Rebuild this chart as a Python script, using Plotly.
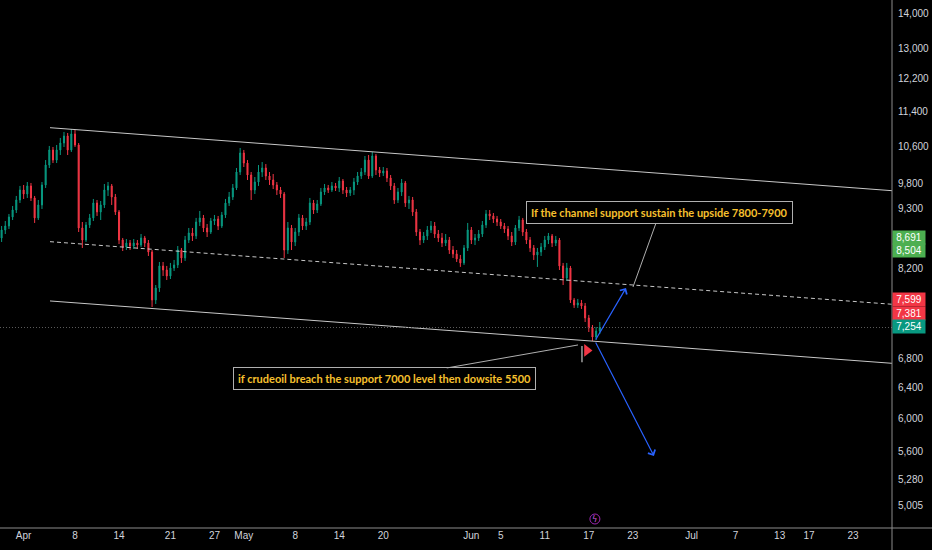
import math
import pandas as pd
import plotly.graph_objects as go

# CRUDEOIL, 12h candles (log price scale)
first_candle = "2024-03-29 00:00"

opens = [8747, 8894, 8969, 9140, 9274, 9470, 9670, 9590, 9752, 9510,
         9121, 9372, 9772, 10188, 10514, 10295, 10514, 10668, 10826, 10514,
         10872, 10624, 8932, 8710, 8988, 9121, 9411, 9236, 9372, 9670,
         9752, 9530, 9236, 8710, 8583, 8655, 8601, 8655, 8619, 8747,
         8655, 8495, 7684, 7879, 8250, 8181, 8079, 8215, 8267, 8530,
         8389, 8710, 8839, 8784, 9044, 9121, 8932, 8857, 9063, 9101,
         8969, 9178, 9411, 9530, 9711, 10041, 10448, 10231, 9978, 9670,
         9833, 10041, 10125, 9957, 9874, 9772, 9670, 9590, 8530, 8932,
         8674, 8857, 9121, 8969, 9044, 9411, 9274, 9392, 9630, 9711,
         9670, 9752, 9711, 9854, 9670, 9610, 9670, 9833, 9957, 10041,
         10295, 9957, 10382, 10083, 10020, 10062, 9916, 9752, 9470, 9630,
         9813, 9411, 9470, 9236, 8857, 8710, 8784, 8894, 8969, 8820,
         8747, 8655, 8710, 8530, 8460, 8372, 8302, 8566, 8894, 8710,
         8747, 8820, 8988, 9197, 9159, 9101, 9044, 8969, 8913, 8784,
         8674, 8932, 9082, 8857, 8710, 8566, 8442, 8495, 8583, 8710,
         8784, 8655, 8710, 8250, 8045, 8215, 7684, 7604, 7636, 7588,
         7400, 7246, 7111, 7201]

highs = [8969, 9063, 9197, 9352, 9550, 9752, 9772, 9833, 9813, 9550,
         9470, 9833, 10295, 10602, 10580, 10624, 10781, 10917, 10894, 10985,
         10962, 10668, 9044, 9044, 9197, 9490, 9470, 9450, 9792, 9833,
         9792, 9590, 9274, 8747, 8728, 8710, 8728, 8710, 8820, 8784,
         8710, 8530, 7928, 8319, 8319, 8250, 8302, 8354, 8601, 8566,
         8784, 8932, 8932, 9121, 9255, 9178, 9007, 9121, 9178, 9159,
         9236, 9490, 9630, 9792, 10125, 10558, 10514, 10295, 10041, 9936,
         10188, 10252, 10209, 10041, 9999, 9833, 9731, 9630, 9044, 8988,
         8932, 9197, 9178, 9121, 9510, 9470, 9470, 9711, 9792, 9772,
         9833, 9813, 9936, 9895, 9731, 9731, 9916, 10041, 10125, 10382,
         10404, 10470, 10426, 10146, 10146, 10125, 9978, 9813, 9711, 9895,
         9854, 9550, 9530, 9294, 8913, 8857, 8969, 9063, 9044, 8894,
         8839, 8820, 8765, 8601, 8530, 8442, 8619, 9026, 8950, 8820,
         8894, 9063, 9274, 9274, 9216, 9159, 9101, 9026, 8969, 8857,
         8988, 9159, 9121, 8913, 8765, 8619, 8566, 8655, 8784, 8839,
         8820, 8784, 8747, 8302, 8302, 8250, 7716, 7700, 7684, 7636,
         7447, 7292, 7262, 7338]

lows = [8674, 8820, 8913, 9082, 9216, 9411, 9490, 9510, 9450, 9026,
        9082, 9294, 9711, 10125, 10231, 10231, 10404, 10580, 10404, 10470,
        10580, 8857, 8566, 8674, 8932, 9063, 9159, 9082, 9313, 9550,
        9372, 9178, 8637, 8512, 8530, 8530, 8548, 8548, 8583, 8583,
        8424, 7572, 7620, 7814, 8079, 8011, 8028, 8164, 8215, 8302,
        8337, 8655, 8692, 8728, 8969, 8857, 8765, 8820, 8988, 8894,
        8932, 9121, 9352, 9470, 9670, 9978, 10146, 9874, 9470, 9590,
        9752, 9936, 9874, 9772, 9690, 9570, 9510, 8389, 8460, 8530,
        8601, 8784, 8894, 8894, 8988, 9197, 9216, 9352, 9570, 9610,
        9630, 9650, 9630, 9590, 9530, 9550, 9570, 9772, 9895, 9978,
        9895, 9916, 9978, 9936, 9957, 9833, 9670, 9392, 9411, 9550,
        9333, 9294, 9159, 8784, 8619, 8655, 8710, 8839, 8747, 8674,
        8583, 8601, 8460, 8389, 8319, 8233, 8267, 8512, 8637, 8619,
        8692, 8765, 8932, 9082, 9026, 8969, 8913, 8839, 8710, 8601,
        8619, 8876, 8784, 8637, 8495, 8354, 8233, 8424, 8530, 8637,
        8583, 8601, 8181, 7928, 7994, 7636, 7557, 7557, 7541, 7338,
        7186, 7052, 7067, 7156]

closes = [8894, 8969, 9140, 9274, 9470, 9670, 9590, 9752, 9510, 9121,
          9372, 9772, 10188, 10514, 10295, 10514, 10668, 10826, 10514, 10872,
          10624, 8932, 8710, 8988, 9121, 9411, 9236, 9372, 9670, 9752,
          9530, 9236, 8710, 8583, 8655, 8601, 8655, 8619, 8747, 8655,
          8495, 7684, 7879, 8250, 8181, 8079, 8215, 8267, 8530, 8389,
          8710, 8839, 8784, 9044, 9121, 8932, 8857, 9063, 9101, 8969,
          9178, 9411, 9530, 9711, 10041, 10448, 10231, 9978, 9670, 9833,
          10041, 10125, 9957, 9874, 9772, 9670, 9590, 8530, 8932, 8674,
          8857, 9121, 8969, 9044, 9411, 9274, 9392, 9630, 9711, 9670,
          9752, 9711, 9854, 9670, 9610, 9670, 9833, 9957, 10041, 10295,
          9957, 10382, 10083, 10020, 10062, 9916, 9752, 9470, 9630, 9813,
          9411, 9470, 9236, 8857, 8710, 8784, 8894, 8969, 8820, 8747,
          8655, 8710, 8530, 8460, 8372, 8302, 8566, 8894, 8710, 8747,
          8820, 8988, 9197, 9159, 9101, 9044, 8969, 8913, 8784, 8674,
          8932, 9082, 8857, 8710, 8566, 8442, 8495, 8583, 8710, 8784,
          8655, 8710, 8250, 8045, 8215, 7684, 7604, 7636, 7588, 7400,
          7246, 7111, 7201, 7254]

# descending channel, two anchor points per line
channel_dates = ["2024-04-04 14:15", "2024-07-28 07:25"]
channel_upper = [11015, 9656]
channel_middle = [8680, 7615]
channel_lower = [7668, 6731]

# projection arrows
arrow_from = ["2024-06-17 20:00", 7052]
arrow_up_to = ["2024-06-22 01:40", 7879]
arrow_down_to = ["2024-06-25 21:00", 5545]

# callout notes
note_up = "If the channel support sustain the upside 7800-7900"
note_up_at = ["2024-06-23 00:30", 7895]
note_down = "if crudeoil breach the support 7000 level then dowsite 5500"
note_down_at = ["2024-06-15 12:45", 6994]

flag_at = ["2024-06-16 18:00", 6914]
flag_pole_date = "2024-06-16 01:40"
flag_pole_prices = [6979, 6747]
event_date = "2024-06-17 20:00"

# price scale badges
badge_values = [8691, 8504, 7599, 7381, 7254]
badge_colors = ["#4caf50", "#4caf50", "#f23645", "#f23645", "#089981"]
badge_shift = [4, 1, 6, 6, 1]

price_ticks = [5005, 5280, 5600, 6000, 6400, 6800, 8200, 9300, 9800,
               10600, 11400, 12200, 13000, 14000]
date_ticks = ["2024-04-01", "2024-04-08", "2024-04-14", "2024-04-21", "2024-04-27",
              "2024-05-01", "2024-05-08", "2024-05-14", "2024-05-20", "2024-06-01",
              "2024-06-05", "2024-06-11", "2024-06-17", "2024-06-23", "2024-07-01",
              "2024-07-07", "2024-07-13", "2024-07-17", "2024-07-23"]
date_labels = ["Apr", "8", "14", "21", "27", "May", "8", "14", "20", "Jun",
               "5", "11", "17", "23", "Jul", "7", "13", "17", "23"]

x_range = ["2024-03-28 18:45", "2024-07-28 07:25"]
y_range = [3.67854, 4.15793]  # log10

times = pd.date_range(first_candle, periods=len(closes), freq="12h")
last_price = closes[-1]

AX = "#8c8c8c"
LINE = "#c8c8c8"
TXT = "#d1d4dc"
NOTE = "#f7c12e"
EVENT_Y = (528 - 519) / 528

fig = go.Figure()

fig.add_trace(go.Candlestick(
    x=times, open=opens, high=highs, low=lows, close=closes,
    increasing=dict(line=dict(color="#089981", width=1), fillcolor="#089981"),
    decreasing=dict(line=dict(color="#f23645", width=1), fillcolor="#f23645"),
    whiskerwidth=0, showlegend=False, hoverinfo="skip",
))

# channel lines
fig.add_trace(go.Scatter(x=channel_dates, y=channel_upper, mode="lines",
                         line=dict(color=LINE, width=1), hoverinfo="skip", showlegend=False))
fig.add_trace(go.Scatter(x=channel_dates, y=channel_middle, mode="lines",
                         line=dict(color=LINE, width=1, dash="4px,3px"), hoverinfo="skip", showlegend=False))
fig.add_trace(go.Scatter(x=channel_dates, y=channel_lower, mode="lines",
                         line=dict(color=LINE, width=1), hoverinfo="skip", showlegend=False))

# last price line
fig.add_trace(go.Scatter(x=x_range, y=[last_price, last_price], mode="lines",
                         line=dict(color="#5a5a5a", width=1, dash="1px,2px"),
                         hoverinfo="skip", showlegend=False))

# flag marker
fig.add_trace(go.Scatter(x=[flag_pole_date, flag_pole_date], y=flag_pole_prices, mode="lines",
                         line=dict(color="#9e9e9e", width=1.5), hoverinfo="skip", showlegend=False))
fig.add_trace(go.Scatter(x=[flag_at[0]], y=[flag_at[1]], mode="markers",
                         marker=dict(symbol="triangle-right", size=11, color="#f23645"),
                         hoverinfo="skip", showlegend=False))

annotations = []
for target in (arrow_up_to, arrow_down_to):
    annotations.append(dict(
        x=target[0], y=math.log10(target[1]), xref="x", yref="y",
        ax=arrow_from[0], ay=math.log10(arrow_from[1]), axref="x", ayref="y",
        text="", showarrow=True, arrowhead=4, arrowsize=1.3, arrowwidth=1.2,
        arrowcolor="#2962ff",
    ))

for text, at, ax, ay in ((note_up, note_up_at, 27, -75), (note_down, note_down_at, -194, 34)):
    annotations.append(dict(
        x=at[0], y=math.log10(at[1]), xref="x", yref="y", ax=ax, ay=ay,
        text=text, showarrow=True, arrowhead=0, arrowwidth=1, arrowcolor="#b0b0b0",
        font=dict(family="Lato", size=11, color=NOTE, weight=700),
        bgcolor="#000000", bordercolor="#b0b0b0", borderwidth=1, borderpad=4,
    ))

for val, col, sh in zip(badge_values, badge_colors, badge_shift):
    annotations.append(dict(
        x=1, xref="paper", xanchor="left", y=math.log10(val), yref="y", yanchor="middle",
        yshift=sh, text=f"{val:,}", showarrow=False, bgcolor=col,
        font=dict(family="Liberation Sans", size=10, color="#ffffff"),
        width=30, height=11, borderpad=1, align="center",
    ))

annotations.append(dict(
    x=event_date, xref="x", y=EVENT_Y, yref="paper", yanchor="middle", text="ϟ",
    showarrow=False, font=dict(family="DejaVu Sans", size=8, color="#d05ce3"),
))

shapes = [
    dict(type="line", xref="paper", yref="paper", x0=0, x1=932 / 892, y0=0, y1=0,
         line=dict(color=AX, width=1)),
    dict(type="line", xref="paper", yref="paper", x0=1, x1=1, y0=-22 / 528, y1=1,
         line=dict(color=AX, width=1)),
    dict(type="circle", xref="x", yref="paper", xsizemode="pixel", ysizemode="pixel",
         xanchor=event_date, yanchor=EVENT_Y, x0=-5, x1=5, y0=-5, y1=5,
         line=dict(color="#9c27b0", width=1)),
]

fig.update_layout(
    width=932, height=550,
    margin=dict(l=0, r=40, t=0, b=22),
    paper_bgcolor="#000000", plot_bgcolor="#000000",
    font=dict(family="Liberation Sans", size=10, color=TXT),
    showlegend=False,
    boxgap=0.6,
    annotations=annotations,
    shapes=shapes,
    xaxis=dict(
        type="date", range=x_range, showgrid=False, zeroline=False, showline=False,
        tickvals=date_ticks, ticktext=date_labels, ticks="",
        tickfont=dict(family="Liberation Sans", size=10, color=TXT),
        rangeslider=dict(visible=False),
    ),
    yaxis=dict(
        type="log", side="right", range=y_range, showgrid=False, zeroline=False,
        showline=False, tickvals=price_ticks, ticktext=[f"{v:,}" for v in price_ticks],
        ticks="outside", ticklen=3, tickcolor="rgba(0,0,0,0)",
        tickfont=dict(family="Liberation Sans", size=10, color=TXT),
    ),
)

fig.write_html("out.html", config={"displayModeBar": False},
               post_script="document.body.style.margin='0';document.body.style.background='#000';")
